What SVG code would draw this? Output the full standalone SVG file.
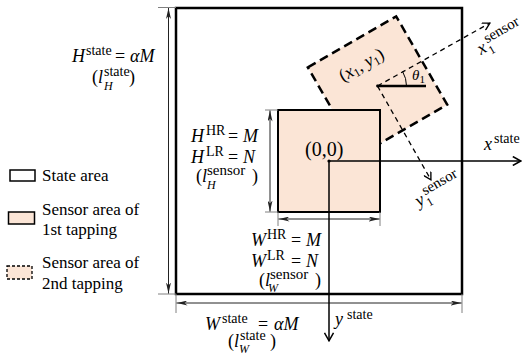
<svg xmlns="http://www.w3.org/2000/svg" width="524" height="362" viewBox="0 0 524 362">
<style>
text{font-family:"Liberation Serif","Times New Roman",serif;fill:#000}
.m{font-size:18px}
.i{font-style:italic}
.s{font-size:14px}
.sb{font-size:12px}
.ss{font-size:15px}
.lg{font-size:17px}
.box{fill:none;stroke:#000;stroke-width:2.5}
.sen{fill:#fbe5d6;stroke:#000;stroke-width:2}
.dsen{fill:#fbe5d6;stroke:#000;stroke-width:2.5;stroke-dasharray:9 5}
.ext{stroke:#808080;stroke-width:1;fill:none}
.dim{stroke:#222;stroke-width:1;fill:none;marker-start:url(#dimA);marker-end:url(#dimA)}
.ax{stroke:#000;stroke-width:1.5;fill:none;marker-end:url(#openA)}
.dax{stroke:#000;stroke-width:1.3;fill:none;stroke-dasharray:5 4;marker-end:url(#openD)}
</style>
<defs>
<marker id="dimA" viewBox="0 0 11 5" refX="11" refY="2.5" markerWidth="11" markerHeight="5" markerUnits="userSpaceOnUse" orient="auto-start-reverse"><path d="M0,0 L11,2.5 L0,5 L3,2.5 z" fill="#222"/></marker>
<marker id="openA" viewBox="0 0 10 10" refX="9.2" refY="5" markerWidth="10" markerHeight="10" markerUnits="userSpaceOnUse" orient="auto"><path d="M1,0.5 L9,5 L1,9.5" fill="none" stroke="#000" stroke-width="1.5"/></marker>
<marker id="openD" viewBox="0 0 10 10" refX="9.2" refY="5" markerWidth="9" markerHeight="9" markerUnits="userSpaceOnUse" orient="auto"><path d="M1,0.5 L9,5 L1,9.5" fill="none" stroke="#000" stroke-width="1.5"/></marker>
</defs>
<rect width="524" height="362" fill="#fff"/>

<g id="state-area"><rect class="box" x="176" y="8" width="286" height="286"/></g>
<g id="sensor-2nd"><rect class="dsen" x="-51" y="-51" width="102" height="102" transform="translate(377.5,86) rotate(-30)"/></g>
<g id="sensor-1st"><rect class="sen" x="278" y="110" width="102" height="102"/></g>

<g id="connectors">
<path class="ext" d="M158,7.5 H176 M158,294 H176 M176,294 V313 M462,294 V313"/>
<path class="dim" d="M168.5,8 V293.5"/>
<path class="dim" d="M176.5,303 H461.5"/>
<path class="ext" d="M265,110 H278 M265,212 H278 M278,212 V226 M380,212 V226"/>
<path class="dim" d="M270,110.5 V211.5"/>
<path class="dim" d="M278.5,219 H379.5"/>
<path class="ax" d="M329,161 H521"/>
<path class="ax" d="M329,161 V341"/>
<path class="dax" d="M377.5,86 L490,23"/>
<path class="dax" d="M377.5,86 L431,180"/>
<path d="M377.5,86 H426" stroke="#000" stroke-width="2.5"/>
<path d="M406.5,86 A29,29 0 0 0 402.6,71.5" fill="none" stroke="#000" stroke-width="1"/>
<circle cx="329" cy="161" r="1.6" fill="#000"/>
<circle cx="377.5" cy="86" r="1.4" fill="#000"/>
</g>

<g id="label-H-state">
<text class="m"><tspan class="i" x="72" y="62">H</tspan><tspan class="s" x="86" y="55">state</tspan><tspan x="115" y="62">=</tspan><tspan class="i" x="130" y="62">αM</tspan></text>
<text class="m"><tspan x="92" y="83">(</tspan><tspan class="i" x="98" y="83">l</tspan><tspan class="s" x="104" y="76">state</tspan><tspan class="sb i" x="104" y="90">H</tspan><tspan x="129" y="83">)</tspan></text>
</g>

<g id="label-H-sensor">
<text class="m"><tspan class="i" x="191" y="142">H</tspan><tspan class="s" x="206" y="135">HR</tspan><tspan x="228" y="142">=</tspan><tspan class="i" x="243" y="142">M</tspan></text>
<text class="m"><tspan class="i" x="191" y="162.5">H</tspan><tspan class="s" x="206" y="155.5">LR</tspan><tspan x="228" y="162.5">=</tspan><tspan class="i" x="243" y="162.5">N</tspan></text>
<text class="m"><tspan x="196" y="182">(</tspan><tspan class="i" x="202" y="182">l</tspan><tspan class="ss" x="207" y="175">sensor</tspan><tspan class="sb i" x="207" y="189">H</tspan><tspan x="252" y="182">)</tspan></text>
</g>

<g id="label-origin"><text class="m" x="305" y="156" style="font-size:20px">(0,0)</text></g>

<g id="label-W-sensor">
<text class="m"><tspan class="i" x="251" y="246">W</tspan><tspan class="s" x="267" y="239">HR</tspan><tspan x="291" y="246">=</tspan><tspan class="i" x="306" y="246">M</tspan></text>
<text class="m"><tspan class="i" x="251" y="266.5">W</tspan><tspan class="s" x="267" y="259.5">LR</tspan><tspan x="291" y="266.5">=</tspan><tspan class="i" x="306" y="266.5">N</tspan></text>
<text class="m"><tspan x="259" y="286">(</tspan><tspan class="i" x="265" y="286">l</tspan><tspan class="ss" x="270" y="279">sensor</tspan><tspan class="sb i" x="268" y="292">W</tspan><tspan x="315" y="286">)</tspan></text>
</g>

<g id="label-W-state">
<text class="m"><tspan class="i" x="205" y="330">W</tspan><tspan class="s" x="222" y="323">state</tspan><tspan x="258" y="330">=</tspan><tspan class="i" x="274" y="330">αM</tspan></text>
<text class="m"><tspan x="228" y="347">(</tspan><tspan class="i" x="234" y="347">l</tspan><tspan class="s" x="240" y="340">state</tspan><tspan class="sb i" x="239" y="353">W</tspan><tspan x="270" y="347">)</tspan></text>
</g>

<g id="label-x-state"><text class="m"><tspan class="i" x="484" y="149.5">x</tspan><tspan class="s" x="494" y="143">state</tspan></text></g>
<g id="label-y-state"><text class="m"><tspan class="i" x="335" y="325">y</tspan><tspan class="s" x="347" y="319">state</tspan></text></g>

<g id="label-xy1"><text class="m" transform="translate(343,82) rotate(-30)"><tspan>(</tspan><tspan class="i">x</tspan><tspan dy="3" style="font-size:12px">1</tspan><tspan dy="-3">, </tspan><tspan class="i">y</tspan><tspan dy="3" style="font-size:12px">1</tspan><tspan dy="-3">)</tspan></text></g>
<g id="label-theta"><text class="m" style="font-size:15px"><tspan class="i" x="412" y="80">θ</tspan><tspan x="419.5" y="83" style="font-size:11px">1</tspan></text></g>
<g id="label-x1-sensor" transform="translate(481,55) rotate(-30)"><text class="m i" x="0" y="0">x</text><text class="sb" x="9" y="5">1</text><text class="ss" x="11" y="-7">sensor</text></g>
<g id="label-y1-sensor" transform="translate(419,207) rotate(-30)"><text class="m i" x="0" y="0">y</text><text class="sb" x="9" y="5">1</text><text class="ss" x="11" y="-7">sensor</text></g>

<g id="legend-state"><rect x="10" y="170" width="25" height="11" fill="#fff" stroke="#000" stroke-width="1.5"/><text class="lg" x="42" y="181">State area</text></g>
<g id="legend-sensor-1st"><rect x="8.5" y="212" width="26" height="12" fill="#fbe5d6" stroke="#000" stroke-width="1.5"/><text class="lg"><tspan x="42" y="215">Sensor area of</tspan><tspan x="42" y="235">1st tapping</tspan></text></g>
<g id="legend-sensor-2nd"><rect x="7" y="266" width="25" height="13" fill="#fbe5d6" stroke="#000" stroke-width="1.3" stroke-dasharray="3 2"/><text class="lg"><tspan x="42" y="268">Sensor area of</tspan><tspan x="42" y="288.5">2nd tapping</tspan></text></g>
</svg>
